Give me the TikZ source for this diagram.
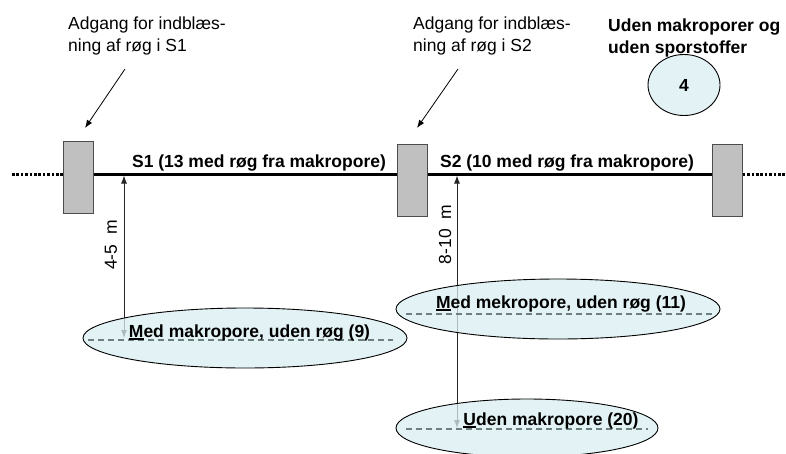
\documentclass[tikz,border=0pt]{standalone}
\usepackage{fontspec}
\setmainfont{Liberation Sans}
\usetikzlibrary{arrows.meta,shapes.geometric}
\definecolor{boxgray}{HTML}{C0C0C0}
\definecolor{ellfill}{HTML}{DAEEF0}
\definecolor{dashgray}{HTML}{6E7F80}
\newcommand\ulletter[1]{\setbox0\hbox{#1}\rlap{\rule[-2.8pt]{\wd0}{1.8pt}}#1}
\begin{document}
\begin{tikzpicture}[x=1pt,y=-1pt,
  every node/.style={font=\fontsize{17.5}{21.5}\selectfont},
  plug/.style={draw=black!70, fill=boxgray, minimum width=30pt, minimum height=72pt, inner sep=0pt, line width=0.7pt},
  pipe/.style={line width=3pt},
  dotpipe/.style={line width=3pt, dash pattern=on 2.6pt off 1.8pt},
  layer/.style={ellipse, draw=black, line width=0.9pt, fill=ellfill, fill opacity=0.75, text opacity=1, inner sep=0pt},
  lbl/.style={inner sep=0pt, font=\fontsize{17.5}{21.5}\selectfont\bfseries},
  note/.style={inner sep=0pt, align=left, anchor=north west},
  dim/.style={draw=black!85, line width=1pt, {Latex[length=8pt,width=6pt]}-{Latex[length=8pt,width=6pt]}},
  pointer/.style={-{Latex[length=8pt,width=6pt]}, line width=0.8pt},
  midline/.style={draw=dashgray, line width=1.4pt, dash pattern=on 6pt off 4pt}
]
\useasboundingbox (0,0) rectangle (786,453);

% level of the pipe
\coordinate (L0) at (12,174);
\coordinate (R0) at (786,174);

% pipe and plugs
\node[plug] (b1) at (78,177) {};
\node[plug] (b2) at (412,180.5) {};
\node[plug] (b3) at (727.5,180) {};
\draw[dotpipe] (L0) -- (b1.west |- L0);
\draw[pipe] (b1.east |- L0) -- (b2.west |- L0);
\draw[pipe] (b2.east |- L0) -- (b3.west |- L0);
\draw[dotpipe] (b3.east |- L0) -- (R0);
\node[plug] at (b1) {};
\node[plug] at (b2) {};
\node[plug] at (b3) {};

% depth arrows
\coordinate (a1t) at (124,175.5);
\coordinate (a1b) at (124,338);
\coordinate (a2t) at (457,175.5);
\coordinate (a2b) at (457,428);
\draw[dim] (a1t) -- (a1b);
\draw[dim] (a2t) -- (a2b);
\node[rotate=90, inner sep=0pt] (d1) at (111,245) {4-5\ \ m};
\node[rotate=90, inner sep=0pt] (d2) at (445,234.5) {8-10\ \ m};

% layers
\node[layer, minimum width=324pt, minimum height=60pt] (e9) at (245,338) {};
\node[layer, minimum width=324pt, minimum height=60pt] (e11) at (558,309) {};
\node[layer, minimum width=262pt, minimum height=58pt] (e20) at (527,428) {};
\node[layer, minimum width=72pt, minimum height=61pt, font=\fontsize{17.5}{21.5}\selectfont\bfseries] (e4) at (684,85) {4};

\draw[midline] (88,340) -- (393,340);
\draw[midline] (406,314) -- (712,314);
\draw[midline] (406,429) -- (648,429);

\node[lbl, anchor=base] (m9) at (249.5,337) {\ulletter{M}ed makropore, uden røg (9)};
\node[lbl, anchor=base] (m11) at (561,308) {\ulletter{M}ed mekropore, uden røg (11)};
\node[lbl, anchor=base] (m20) at (551,425) {\ulletter{U}den makropore (20)};

% section labels
\node[lbl, anchor=base] (s1) at (259,167) {S1 (13 med røg fra makropore)};
\node[lbl, anchor=base] (s2) at (567,167) {S2 (10 med røg fra makropore)};

% notes
\node[note] (t1) at (68,17) {Adgang for indblæs-\\ning af røg i S1};
\node[note] (t2) at (413,17) {Adgang for indblæs-\\ning af røg i S2};
\node[note, font=\fontsize{17.5}{21.5}\selectfont\bfseries] (t3) at (608,19) {Uden makroporer og\\uden sporstoffer};

\coordinate (p1s) at (125,69);
\coordinate (p1e) at (85,128);
\coordinate (p2s) at (458,69);
\coordinate (p2e) at (417,128);
\draw[pointer] (p1s) -- (p1e);
\draw[pointer] (p2s) -- (p2e);
\end{tikzpicture}
\end{document}
